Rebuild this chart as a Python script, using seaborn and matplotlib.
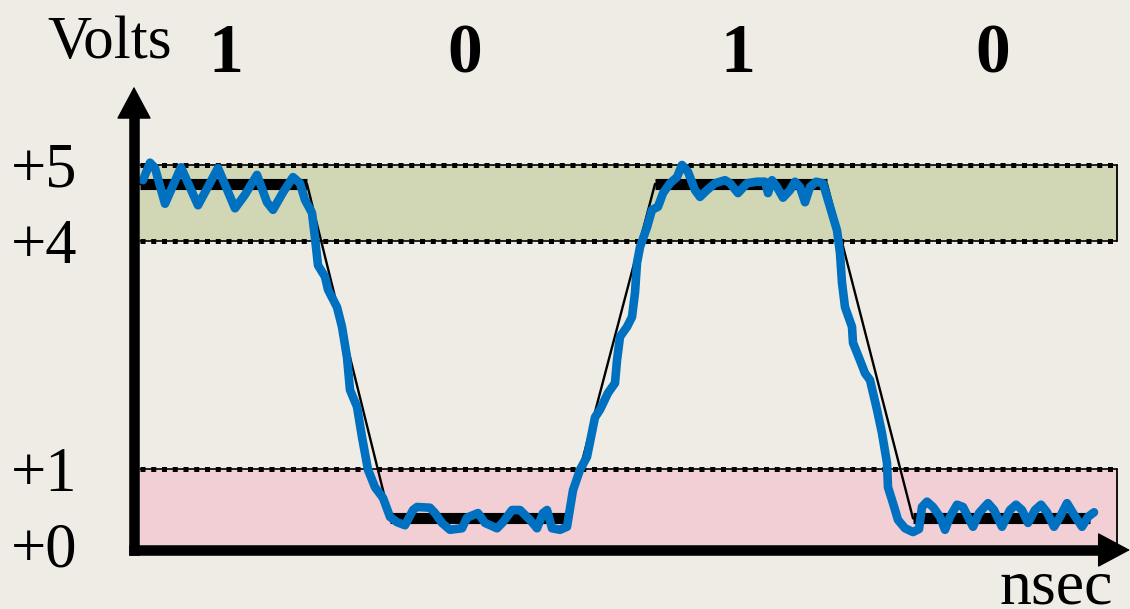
import numpy as np
import pandas as pd
import seaborn as sns
import matplotlib.pyplot as plt

# ---- data (time in ns, level in volts) ----
signal_t = [0.3, 1.0, 1.5, 2.5, 4.1, 5.8, 7.8, 9.5, 10.5, 11.7, 12.7, 13.3, 14.3, 15.3,
            16.0, 16.5, 17.2, 17.5, 17.8, 18.5, 18.8, 19.7, 20.2, 20.7, 21.0, 21.7, 22.2,
            22.8, 23.5, 24.3, 25.0, 25.7, 26.5, 27.3, 27.7, 29.0, 29.5, 30.2, 31.0, 32.2,
            32.7, 33.8, 34.5, 35.7, 36.3, 37.2, 38.0, 39.0, 39.7, 40.3, 40.7, 41.2, 42.0,
            42.7, 43.3, 44.0, 44.7, 45.5, 46.0, 46.8, 47.5, 47.7, 48.0, 48.7, 49.2, 49.5,
            49.7, 50.0, 50.7, 51.2, 51.8, 52.3, 53.0, 53.7, 54.2, 54.8, 55.5, 56.0, 56.7,
            57.5, 58.5, 59.0, 59.8, 60.7, 61.7, 62.5, 62.8, 63.2, 63.7, 64.3, 65.0, 65.5,
            66.0, 66.5, 67.0, 67.6, 68.3, 69.0, 69.7, 70.0, 70.2, 70.5, 71.2, 71.3, 72.0,
            72.5, 73.0, 73.7, 74.2, 74.7, 74.8, 75.3, 75.8, 76.5, 77.3, 77.9, 78.2, 78.7,
            79.3, 80.0, 80.5, 81.0, 81.7, 82.3, 82.8, 83.3, 83.9, 84.8, 85.4, 86.2, 87.0,
            87.6, 88.2, 88.8, 89.5, 90.1, 90.7, 91.4, 92.0, 92.7, 93.3, 94.2, 94.8, 95.4]
signal_v = [4.80, 5.03, 4.96, 4.49, 4.97, 4.47, 4.96, 4.43, 4.61, 4.87, 4.51, 4.41, 4.64, 4.84,
            4.76, 4.54, 4.37, 4.04, 3.68, 3.53, 3.36, 3.13, 2.87, 2.47, 2.04, 1.82, 1.42,
            0.99, 0.76, 0.62, 0.37, 0.30, 0.26, 0.46, 0.50, 0.49, 0.42, 0.29, 0.20, 0.22,
            0.36, 0.42, 0.29, 0.22, 0.30, 0.46, 0.46, 0.33, 0.22, 0.42, 0.46, 0.22, 0.20,
            0.24, 0.72, 0.99, 1.16, 1.68, 1.78, 2.00, 2.13, 2.43, 2.74, 2.87, 3.00, 3.32,
            3.71, 3.92, 4.18, 4.41, 4.45, 4.63, 4.76, 4.84, 5.00, 4.91, 4.67, 4.58, 4.67,
            4.76, 4.80, 4.76, 4.63, 4.76, 4.78, 4.78, 4.63, 4.80, 4.71, 4.57, 4.67, 4.78,
            4.71, 4.51, 4.71, 4.78, 4.76, 4.45, 4.14, 3.84, 3.45, 3.13, 2.87, 2.66, 2.43,
            2.26, 2.17, 1.78, 1.47, 1.08, 0.76, 0.55, 0.33, 0.22, 0.17, 0.21, 0.50, 0.57,
            0.50, 0.37, 0.20, 0.37, 0.53, 0.50, 0.37, 0.24, 0.42, 0.55, 0.46, 0.24, 0.46,
            0.53, 0.46, 0.29, 0.46, 0.53, 0.43, 0.24, 0.37, 0.55, 0.42, 0.24, 0.37, 0.43]

ideal_t = [0.0, 16.7, 25.0, 42.7, 51.5, 68.7, 77.3, 95.0]
ideal_v = [4.75, 4.75, 0.35, 0.35, 4.75, 4.75, 0.35, 0.35]

bits = ['1', '0', '1', '0']
bit_centres = [8.6, 32.5, 59.8, 85.3]

level_ticks = [0, 1, 4, 5]
level_labels = ['+0', '+1', '+4', '+5']

high_band = (4, 5)   # valid "1"
low_band = (0, 1)    # valid "0"
band_end = 97.7

bg = '#EEECE4'
blue = '#0070C0'

sns.set_theme(style='white', rc={'figure.facecolor': bg, 'axes.facecolor': bg})
plt.rcParams['font.family'] = ['Liberation Serif', 'DejaVu Serif']

fig = plt.figure(figsize=(11.3, 6.09), dpi=100)
ax = fig.add_axes([134 / 1130, 59 / 609, 996 / 1130, 550 / 609])
ax.set_xlim(-0.6, 99.0)
ax.set_ylim(-0.066, 7.171)

# threshold bands, dotted borders (thin line + square dots)
ax.fill_between([0, band_end], *high_band, color='#D1D7B4', linewidth=0, zorder=0)
ax.fill_between([0, band_end], *low_band, color='#F2CED5', linewidth=0, zorder=0)
for lvl in [high_band[1], high_band[0], low_band[1]]:
    ax.plot([0, band_end], [lvl, lvl], color='black', linewidth=1.2, zorder=1)
    ax.plot([0, band_end], [lvl, lvl], color='black', linewidth=3.6,
            linestyle=(0, (1, 1.15)), dash_capstyle='butt', zorder=1)
ax.plot([band_end, band_end], high_band, color='black', linewidth=1.3, zorder=1)
ax.plot([band_end, band_end], low_band, color='black', linewidth=1.3, zorder=1)

# ideal waveform: thin edges, thick flat levels
ideal = pd.DataFrame({'t': ideal_t, 'v': ideal_v})
sns.lineplot(data=ideal, x='t', y='v', sort=False, estimator=None,
             color='black', linewidth=1.7, ax=ax, zorder=2)
for i in range(0, len(ideal_t), 2):
    seg = ideal.iloc[i:i + 2]
    sns.lineplot(data=seg, x='t', y='v', sort=False, estimator=None, color='black',
                 linewidth=8, ax=ax, zorder=2, solid_capstyle='butt')

# measured signal
sig = pd.DataFrame({'t': signal_t, 'v': signal_v})
sns.lineplot(data=sig, x='t', y='v', sort=False, estimator=None, color=blue,
             linewidth=6.2, ax=ax, zorder=3, solid_capstyle='round', solid_joinstyle='round')

# axes with arrows
for side in ['top', 'right']:
    ax.spines[side].set_visible(False)
for side in ['left', 'bottom']:
    ax.spines[side].set_linewidth(7.6)
    ax.spines[side].set_color('black')
    ax.spines[side].set_zorder(4)
ax.spines['left'].set_bounds(-0.066, 5.7)
ax.spines['bottom'].set_bounds(-0.6, 97.0)
arrow = dict(arrowstyle='-|>,head_length=0.43,head_width=0.23',
             mutation_scale=50, color='black', lw=1, shrinkA=0, shrinkB=0)
ax.annotate('', xy=(-0.6, 6.03), xytext=(-0.6, 5.5), annotation_clip=False, arrowprops=arrow)
ax.annotate('', xy=(99.0, -0.066), xytext=(96.0, -0.066), annotation_clip=False,
            arrowprops=arrow)

ax.set_xticks([])
ax.set_yticks(level_ticks, level_labels)
ax.tick_params(axis='y', length=0, pad=41, labelsize=45, labelcolor='black')
ax.set_xlabel('')
ax.set_ylabel('')

ax.text(-3.0, 6.41, 'Volts', fontsize=44, ha='center', va='baseline', color='black')
ax.text(91.6, -0.77, 'nsec', fontsize=46, ha='center', va='baseline', color='black')
for b, c in zip(bits, bit_centres):
    ax.text(c, 6.22, b, fontsize=50, fontweight='bold', ha='center', va='baseline',
            color='black')

fig.savefig('out.png', dpi=100, facecolor=bg)
